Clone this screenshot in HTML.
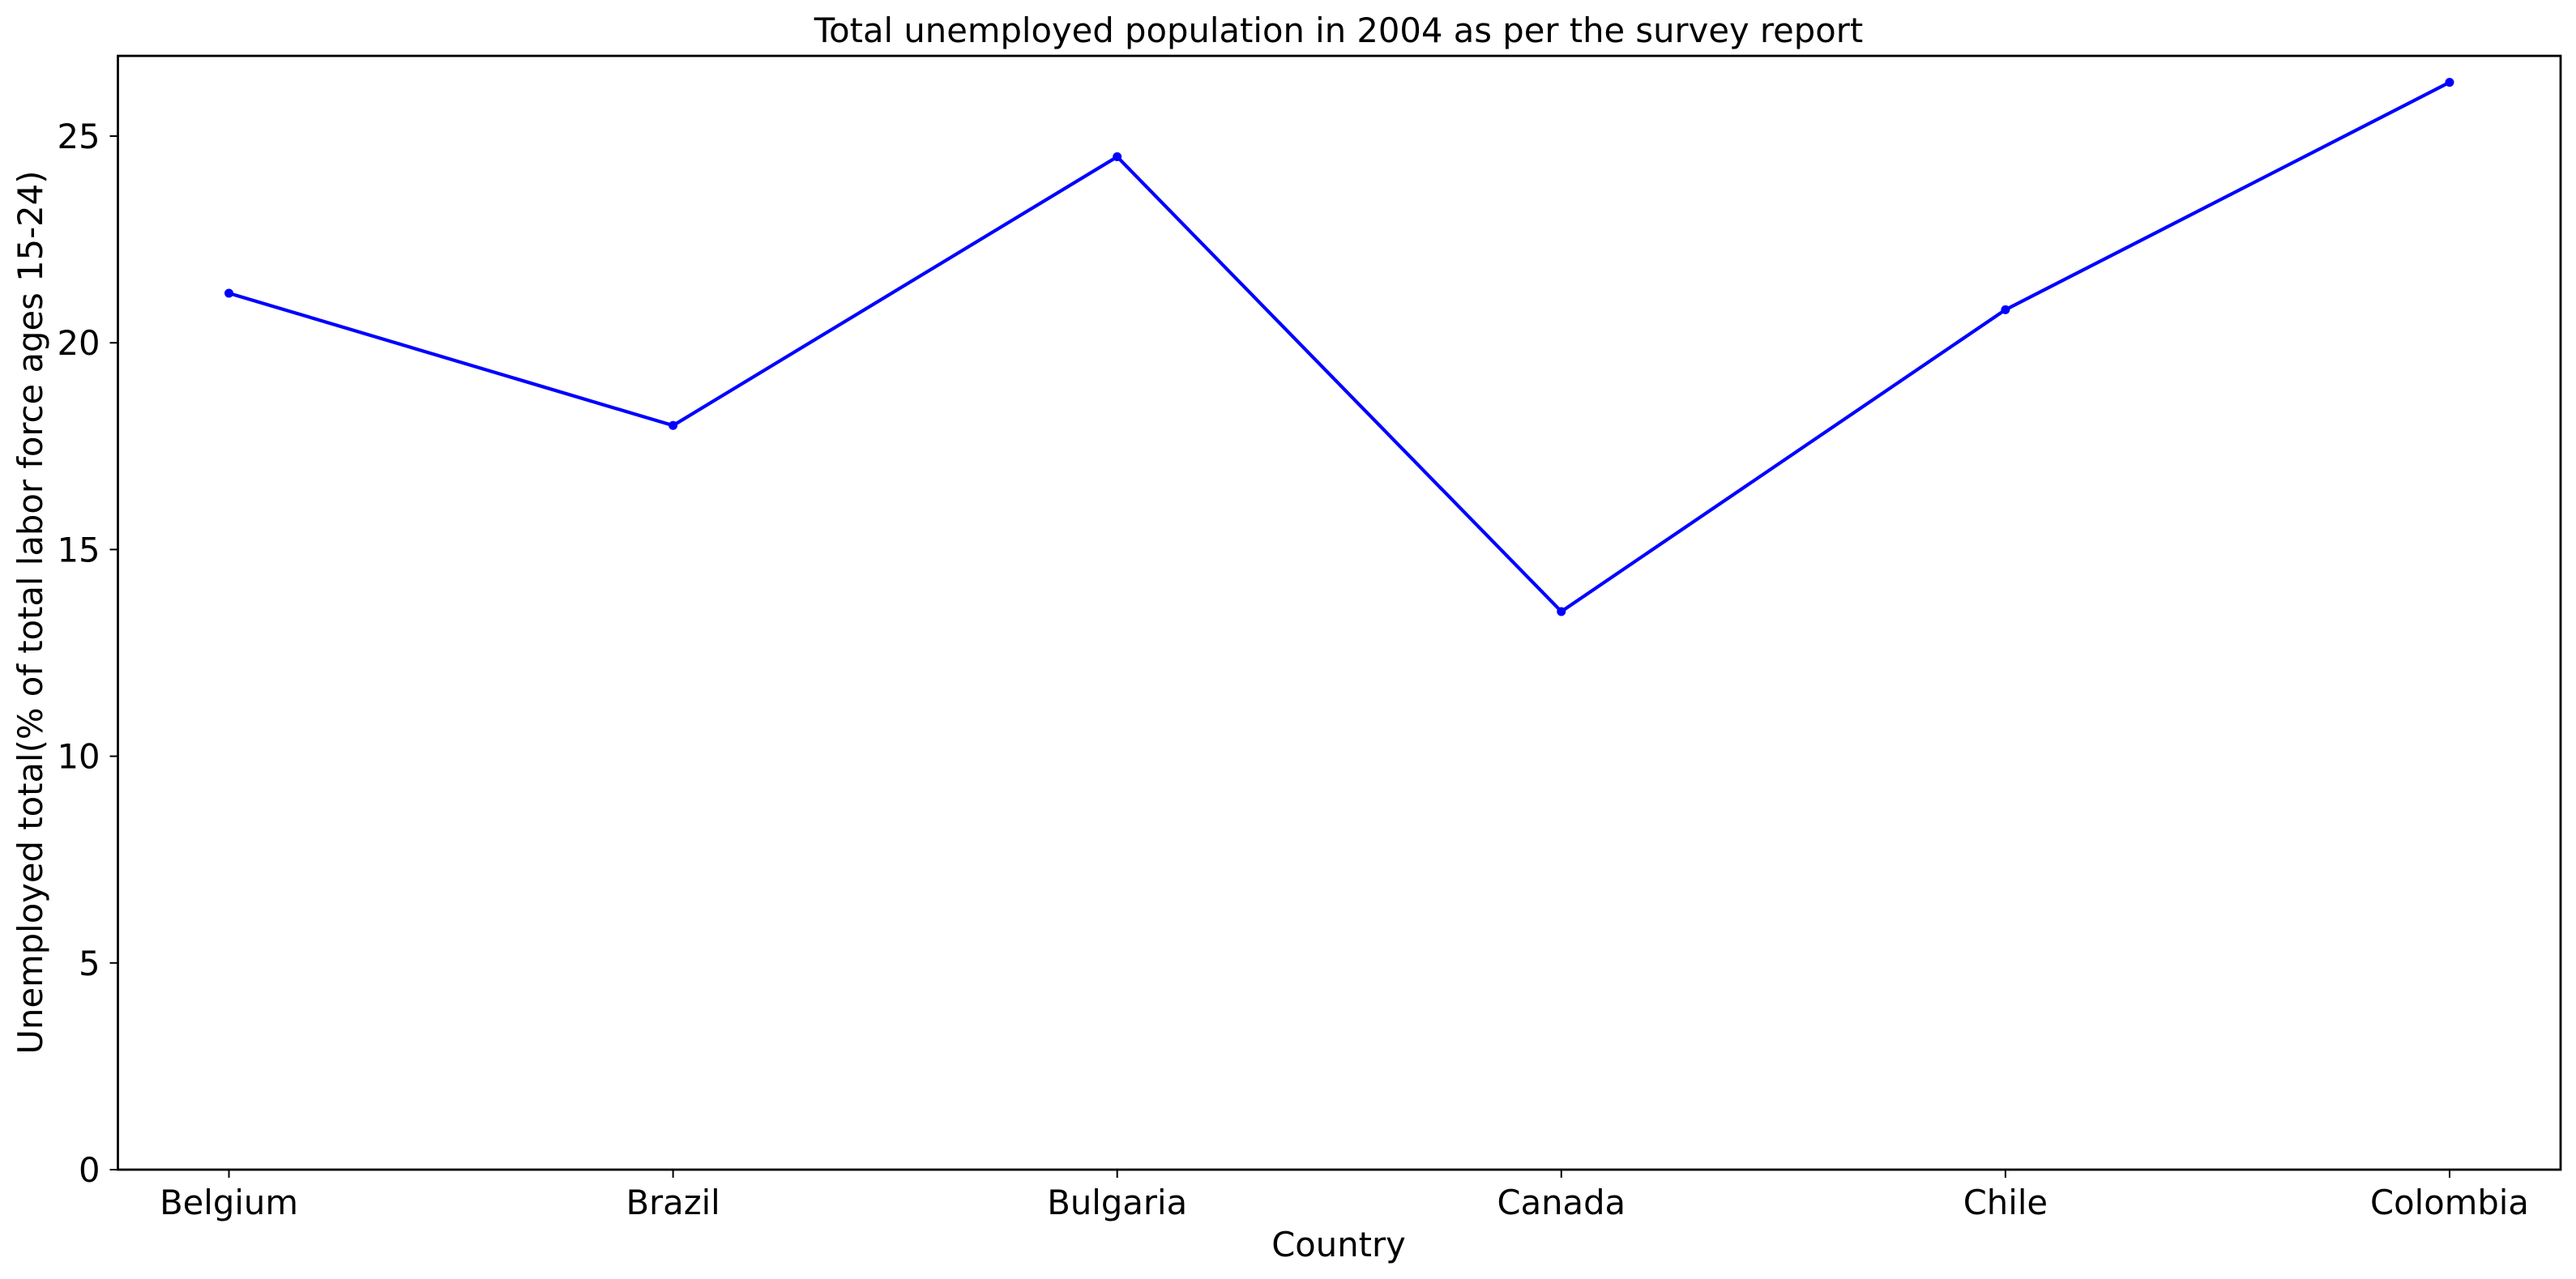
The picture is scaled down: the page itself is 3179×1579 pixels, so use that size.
<!DOCTYPE html>
<html><head><meta charset="utf-8"><style>
html,body{margin:0;padding:0;background:#fff;}
svg{display:block;font-family:"DejaVu Sans","Liberation Sans",sans-serif;}
</style></head><body>
<svg id="chart" width="3179" height="1579" viewBox="0 0 3179 1579">
<rect x="0" y="0" width="3179" height="1579" fill="#fff"/>
<text x="1652" y="52" font-size="41.7" text-anchor="middle">Total unemployed population in 2004 as per the survey report</text>
<g id="yticks"></g><g id="xticks"></g>
<polyline id="line" fill="none" stroke="#0000ff" stroke-width="4.2" stroke-linejoin="round"/>
<g id="points"></g>
<rect x="145.5" y="69" width="3014.5" height="1375" fill="none" stroke="#000" stroke-width="2.8"/>
<text x="1652" y="1551" font-size="41.7" text-anchor="middle">Country</text>
<text transform="translate(52,756) rotate(-90)" font-size="41.7" text-anchor="middle">Unemployed total(% of total labor force ages 15-24)</text>
</svg>
<script>
const categories = ["Belgium","Brazil","Bulgaria","Canada","Chile","Colombia"];
const values = [21.2, 18.0, 24.5, 13.5, 20.8, 26.3];
const yTickValues = [0, 5, 10, 15, 20, 25];
const NS = "http://www.w3.org/2000/svg";
const L = 145.5, R = 3160, T = 69, B = 1444;
const yMin = 0, yMax = Math.max(...values) + 0.05 * (Math.max(...values) - Math.min(...values));
const xMin = -0.05 * (categories.length - 1), xMax = (categories.length - 1) * 1.05;
const xs = i => L + (i - xMin) / (xMax - xMin) * (R - L);
const ys = v => B - (v - yMin) / (yMax - yMin) * (B - T);
function mk(tag, attrs, parent, txt) {
  const e = document.createElementNS(NS, tag);
  for (const k in attrs) e.setAttribute(k, attrs[k]);
  if (txt !== undefined) e.textContent = txt;
  parent.appendChild(e);
  return e;
}
const yg = document.getElementById("yticks");
yTickValues.forEach(v => {
  const y = ys(v);
  const t = mk("line", {x1: L - 10, x2: L, y1: y, y2: y, stroke: "#000", "stroke-width": 2}, yg);
  
  
  const lb = mk("text", {x: L - 22, y: y + 15, "font-size": 41.7, "text-anchor": "end"}, yg, String(v));
  
  
});
const xg = document.getElementById("xticks");
categories.forEach((c, i) => {
  const x = xs(i);
  const t = mk("line", {x1: x, x2: x, y1: B, y2: B + 10, stroke: "#000", "stroke-width": 2}, xg);
  
  
  const lb = mk("text", {x: x, y: B + 55, "font-size": 41.7, "text-anchor": "middle"}, xg, c);
  
  
});
document.getElementById("line").setAttribute("points", values.map((v, i) => xs(i) + "," + ys(v)).join(" "));
const pg = document.getElementById("points");
values.forEach((v, i) => {
  const p = mk("circle", {cx: xs(i), cy: ys(v), r: 5.5, fill: "#0000ff"}, pg);
  
  
});
</script>
</body></html>
